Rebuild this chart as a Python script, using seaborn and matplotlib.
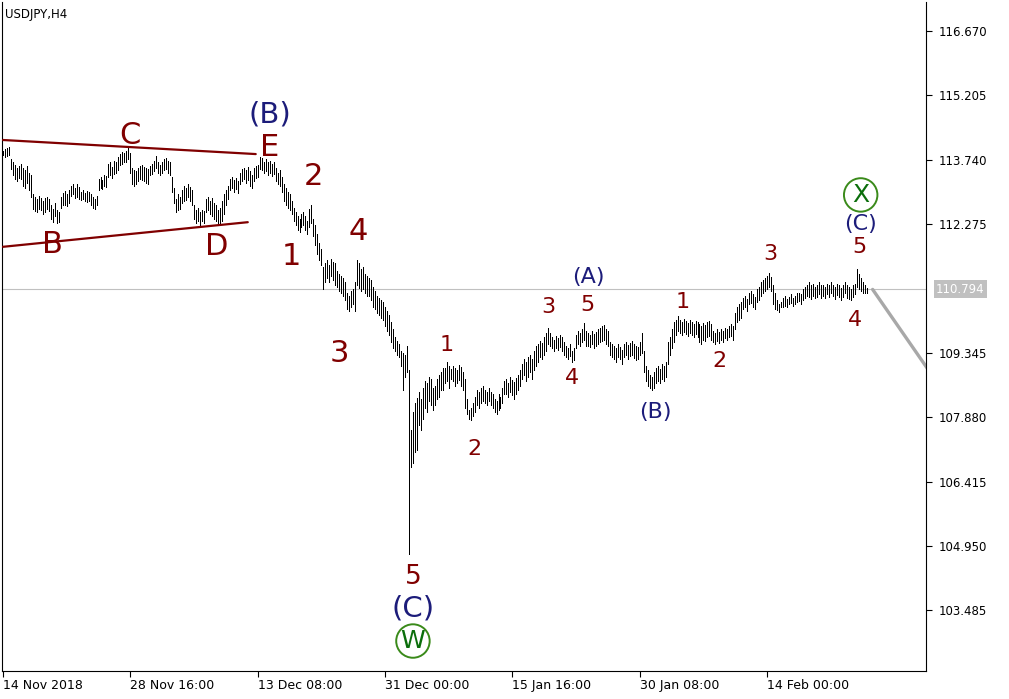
import matplotlib
matplotlib.use('Agg')
import matplotlib.pyplot as plt
import matplotlib.transforms as mtransforms
import seaborn as sns
import pandas as pd
import numpy as np

# ---------------------------------------------------------------------------
# data (USDJPY, H4 bars, 14 Nov 2018 .. 19 Feb 2019)
# ---------------------------------------------------------------------------
highs = [
    113.93, 113.98, 114.00, 114.03,
    113.75, 113.70, 113.62, 113.55, 113.60,
    113.65, 113.55, 113.50, 113.60, 113.45, 113.40,
    112.95, 112.90, 112.85, 112.92, 112.88, 112.80, 112.86, 112.90, 112.85,
    112.70, 112.62, 112.75, 112.60, 112.55,
    112.90, 112.98, 113.02, 112.95, 113.05,
    113.15, 113.20, 113.10, 113.18, 113.12,
    113.00, 113.05, 112.98, 113.02, 113.00, 112.95, 112.90, 112.85, 112.92,
    113.30, 113.35, 113.28, 113.40, 113.38,
    113.65, 113.70, 113.58, 113.72, 113.68, 113.80,
    113.88, 113.92, 113.90, 113.95, 114.02, 113.90,
    113.55, 113.50, 113.48, 113.55, 113.60, 113.62, 113.58, 113.55, 113.52,
    113.60, 113.65, 113.72, 113.82, 113.70, 113.62, 113.68, 113.75, 113.78, 113.72, 113.70,
    113.35, 113.10, 112.85, 112.95, 112.90,
    113.05, 113.15, 113.10, 113.20, 113.12, 113.05,
    112.70, 112.60, 112.65, 112.55, 112.60, 112.58,
    112.85, 112.90, 112.80, 112.88, 112.75, 112.70, 112.60, 112.65,
    112.80, 112.95, 113.05, 113.15,
    113.30, 113.35, 113.28, 113.32, 113.25,
    113.45, 113.52, 113.55, 113.50, 113.58, 113.48, 113.40, 113.55, 113.60, 113.62,
    113.80, 113.78, 113.70, 113.75, 113.68, 113.72, 113.65, 113.70,
    113.55, 113.45, 113.50, 113.35, 113.20, 113.10, 113.00,
    112.95, 112.80,
    112.65, 112.55, 112.45, 112.40, 112.50, 112.55, 112.45, 112.35, 112.62, 112.70,
    112.40, 112.25, 112.05, 111.85, 111.70,
    111.30, 111.40, 111.45, 111.35, 111.48, 111.42, 111.38,
    111.20, 111.15, 111.10, 111.05, 110.95,
    110.70, 110.65, 110.75, 110.80, 110.95,
    111.46, 111.38, 111.25, 111.30, 111.15, 111.10,
    111.05, 111.00, 110.85, 110.75, 110.65, 110.60,
    110.55, 110.50, 110.40, 110.30, 110.20, 110.05, 109.90,
    109.70, 109.62, 109.55, 109.40, 109.35, 109.30, 109.50, 108.95,
    107.59, 107.99, 108.21, 108.33,
    108.45, 108.30, 108.55,
    108.70, 108.65, 108.80, 108.75,
    108.55, 108.60, 108.75, 108.85, 108.90, 109.00,
    109.00, 109.15, 109.05, 108.98,
    109.05, 109.00, 108.95, 109.08, 109.02, 108.90,
    108.75, 108.30, 108.05, 108.10, 108.20,
    108.35, 108.50, 108.45, 108.55, 108.60, 108.50, 108.45,
    108.55, 108.45, 108.40, 108.30, 108.25, 108.40, 108.35, 108.55,
    108.70, 108.75, 108.65, 108.80, 108.72, 108.68, 108.78, 108.85,
    108.95, 109.10, 109.20, 109.15, 109.25, 109.30, 109.20, 109.40, 109.50,
    109.55, 109.62, 109.58, 109.70, 109.80, 109.92,
    109.80, 109.70, 109.65, 109.72, 109.68, 109.75, 109.70,
    109.60, 109.50, 109.45, 109.55, 109.40, 109.45,
    109.75, 109.85, 109.80, 109.90, 110.03, 109.85,
    109.80, 109.75, 109.85, 109.78, 109.82, 109.88, 109.92, 109.95, 109.98, 109.90, 109.85,
    109.60, 109.55, 109.50, 109.45, 109.55, 109.48, 109.42,
    109.55, 109.60, 109.52, 109.58, 109.62, 109.55, 109.50, 109.48, 109.60, 109.80,
    109.40, 109.05, 108.95, 108.85, 108.80,
    108.90, 109.00, 109.05, 108.98, 109.10, 109.05, 109.15,
    109.60, 109.70, 109.90, 110.05, 110.10,
    110.18, 110.10, 110.05, 110.12, 110.08, 110.02, 110.10, 110.05, 110.00, 110.08,
    110.05, 110.00, 109.95, 110.02, 109.98, 110.05, 110.08, 110.00,
    109.85, 109.80, 109.88, 109.82, 109.90, 109.85, 109.92, 109.88, 109.95, 110.00,
    109.95, 110.25, 110.40, 110.45, 110.50,
    110.60, 110.65, 110.58, 110.70, 110.75, 110.68, 110.62, 110.80,
    110.85, 110.95, 111.00, 111.05, 111.10, 111.16, 111.08,
    110.90, 110.70, 110.55, 110.45, 110.50,
    110.60, 110.65, 110.58, 110.62, 110.68, 110.60, 110.65, 110.70, 110.72, 110.68,
    110.80, 110.85, 110.90, 110.95, 110.88, 110.92, 110.85, 110.90, 110.95, 110.88,
    110.90, 110.85, 110.92, 110.88, 110.95, 110.90, 110.85, 110.92, 110.88, 110.82,
    110.90, 110.95, 110.88, 110.85, 110.80, 110.88, 110.92,
    111.26, 111.15, 111.05, 110.95, 110.90, 110.82,
]
lows = [
    113.84, 113.80, 113.83, 113.85,
    113.52, 113.40, 113.30, 113.25, 113.32,
    113.30, 113.15, 113.10, 113.22, 113.05, 112.90,
    112.62, 112.58, 112.55, 112.62, 112.60, 112.50, 112.55, 112.62, 112.58,
    112.40, 112.32, 112.45, 112.30, 112.33,
    112.65, 112.70, 112.72, 112.68, 112.75,
    112.92, 112.95, 112.88, 112.90, 112.85,
    112.82, 112.85, 112.80, 112.78, 112.80, 112.70, 112.65, 112.62, 112.70,
    113.05, 113.10, 113.08, 113.15, 113.12,
    113.35, 113.40, 113.32, 113.42, 113.45, 113.50,
    113.62, 113.65, 113.70, 113.68, 113.75, 113.45,
    113.20, 113.15, 113.18, 113.25, 113.30, 113.28, 113.25, 113.22, 113.20,
    113.40, 113.42, 113.48, 113.55, 113.45, 113.40, 113.45, 113.50, 113.52, 113.45, 113.40,
    113.00, 112.75, 112.55, 112.60, 112.62,
    112.75, 112.80, 112.82, 112.90, 112.80, 112.70,
    112.40, 112.30, 112.35, 112.25, 112.35, 112.30,
    112.55, 112.60, 112.50, 112.45, 112.40, 112.35, 112.25, 112.30,
    112.35, 112.50, 112.70, 112.85,
    113.05, 113.10, 113.00, 113.08, 112.98,
    113.20, 113.25, 113.30, 113.22, 113.28, 113.15, 113.10, 113.25, 113.32, 113.35,
    113.52, 113.50, 113.45, 113.48, 113.40, 113.45, 113.38, 113.42,
    113.25, 113.20, 113.15, 113.00, 112.80, 112.70, 112.65,
    112.60, 112.50,
    112.35, 112.25, 112.15, 112.10, 112.20, 112.25, 112.15, 112.05, 112.20, 112.30,
    112.00, 111.80, 111.60, 111.45, 111.35,
    110.80, 110.95, 111.05, 110.95, 111.10, 111.00, 110.90,
    110.85, 110.75, 110.70, 110.65, 110.55,
    110.35, 110.30, 110.40, 110.45, 110.30,
    110.90, 110.82, 110.75, 110.80, 110.70, 110.65,
    110.65, 110.55, 110.40, 110.35, 110.25, 110.20,
    110.15, 110.10, 109.95, 109.85, 109.75, 109.60, 109.45,
    109.40, 109.30, 109.25, 109.05, 108.50, 108.80, 108.90, 104.77,
    106.75, 106.85, 107.10, 107.14,
    107.70, 107.60, 107.85,
    108.10, 108.00, 108.25, 108.15,
    108.05, 108.15, 108.30, 108.35, 108.50, 108.50,
    108.65, 108.70, 108.55, 108.75,
    108.70, 108.60, 108.65, 108.72, 108.60, 108.50,
    108.10, 107.95, 107.85, 107.82, 107.90,
    108.00, 108.15, 108.10, 108.20, 108.25, 108.20, 108.15,
    108.25, 108.15, 108.10, 108.00, 107.95, 108.05, 108.10, 108.20,
    108.40, 108.42, 108.35, 108.45, 108.38, 108.30, 108.40, 108.50,
    108.60, 108.75, 108.85, 108.70, 108.80, 108.90, 108.75, 108.95, 109.05,
    109.15, 109.25, 109.20, 109.30, 109.40, 109.55,
    109.50, 109.45, 109.40, 109.45, 109.42, 109.48, 109.40,
    109.30, 109.25, 109.20, 109.28, 109.15, 109.18,
    109.45, 109.55, 109.50, 109.60, 109.65, 109.50,
    109.50, 109.48, 109.55, 109.45, 109.50, 109.55, 109.60, 109.62, 109.65, 109.55, 109.50,
    109.30, 109.25, 109.20, 109.15, 109.25, 109.20, 109.10,
    109.25, 109.30, 109.20, 109.28, 109.30, 109.22, 109.18, 109.20, 109.30, 109.35,
    108.90, 108.70, 108.60, 108.55, 108.50,
    108.55, 108.65, 108.70, 108.65, 108.75, 108.70, 108.80,
    109.10, 109.30, 109.45, 109.60, 109.75,
    109.85, 109.80, 109.75, 109.82, 109.78, 109.72, 109.80, 109.75, 109.70, 109.78,
    109.70, 109.60, 109.55, 109.65, 109.62, 109.70, 109.72, 109.65,
    109.60, 109.55, 109.62, 109.58, 109.65, 109.60, 109.68, 109.65, 109.70, 109.72,
    109.65, 109.90, 110.05, 110.10, 110.15,
    110.35, 110.40, 110.30, 110.45, 110.48, 110.40, 110.35, 110.50,
    110.55, 110.65, 110.70, 110.75, 110.80, 110.85, 110.75,
    110.45, 110.35, 110.32, 110.28, 110.38,
    110.40, 110.42, 110.38, 110.45, 110.48, 110.42, 110.45, 110.50, 110.52, 110.45,
    110.55, 110.60, 110.65, 110.62, 110.58, 110.65, 110.60, 110.62, 110.68, 110.60,
    110.65, 110.60, 110.68, 110.62, 110.70, 110.65, 110.58, 110.66, 110.62, 110.55,
    110.62, 110.70, 110.60, 110.58, 110.55, 110.62, 110.68,
    110.85, 110.80, 110.75, 110.70, 110.72, 110.72,
]

current_price = 110.794

# triangle boundary lines (bar index, price)
upper_line_bars = [0, 127]
upper_line_prices = [114.19, 113.87]
lower_line_bars = [0, 123]
lower_line_prices = [111.76, 112.32]

# forecast line
forecast_bars = [437, 465]
forecast_prices = [110.79, 108.96]

y_ticks = [116.670, 115.205, 113.740, 112.275, 109.345, 107.880, 106.415, 104.950, 103.485]
x_tick_bars = [0, 64, 128, 192, 256, 320, 384]
x_tick_labels = ['14 Nov 2018', '28 Nov 16:00', '13 Dec 08:00', '31 Dec 00:00',
                 '15 Jan 16:00', '30 Jan 08:00', '14 Feb 00:00']

# wave labels: text, bar, price
RED = '#800000'
NAVY = '#1c1c7a'
GREEN = '#0b6e0b'
big_labels = [
    ('C', 64, 114.30), ('E', 134, 114.01), ('B', 25, 111.82), ('D', 107.5, 111.76),
    ('2', 156, 113.35), ('1', 145, 111.55), ('4', 178.5, 112.10), ('3', 169, 109.34),
]
small_labels = [
    ('1', 223, 109.53), ('2', 237, 107.16), ('3', 274, 110.39), ('4', 286, 108.78),
    ('5', 293.5, 110.44), ('1', 341.5, 110.50), ('2', 360, 109.16), ('3', 385.5, 111.60),
    ('4', 428, 110.09), ('5', 430.5, 111.76),
]
navy_big = [('(B)', 134, 114.78), ('(C)', 206, 103.54)]
navy_small = [('(A)', 294, 111.07), ('(B)', 328, 108.00), ('(C)', 431, 112.28)]
circled = [('W', 206, 102.79), ('X', 431, 112.94)]


def main():
    sns.set_style('white')
    plt.rcParams['font.family'] = ['DejaVu Sans']

    bars = pd.DataFrame({'bar': np.arange(len(highs)), 'high': highs, 'low': lows})

    fig = plt.figure(figsize=(10.09, 6.99), dpi=100)
    ax = fig.add_axes([2 / 1009, 28 / 699, 924 / 1009, 669 / 699])

    px_per_bar = 1.99
    ax.set_xlim(-0.5, (926 - 3) / px_per_bar)
    ax.set_ylim(102.108, 117.330)

    # current price line
    ax.axhline(current_price, color='#c0c0c0', lw=0.8, zorder=1)

    # bars, 1 px wide
    ax.vlines(bars['bar'], bars['low'], bars['high'], color='black', lw=0.5,
              antialiased=False, zorder=3)

    # triangle lines
    tri = pd.DataFrame({'bar': upper_line_bars + lower_line_bars,
                        'price': upper_line_prices + lower_line_prices,
                        'line': ['upper'] * 2 + ['lower'] * 2})
    sns.lineplot(data=tri, x='bar', y='price', units='line', estimator=None,
                 color=RED, lw=1.6, ax=ax, zorder=4)

    fc = pd.DataFrame({'bar': forecast_bars, 'price': forecast_prices})
    sns.lineplot(data=fc, x='bar', y='price', color='#a8a8a8', lw=2.4, ax=ax,
                 zorder=2, clip_on=True)

    # wave labels
    for t, b, p in big_labels:
        ax.text(b, p, t, color=RED, fontsize=22, ha='center', va='center', zorder=6)
    ax.text(206, 104.25, '5', color=RED, fontsize=19, ha='center', va='center', zorder=6)
    for t, b, p in small_labels:
        ax.text(b, p, t, color=RED, fontsize=16, ha='center', va='center', zorder=6)
    for t, b, p in navy_big:
        ax.text(b, p, t, color=NAVY, fontsize=21, ha='center', va='center', zorder=6)
    for t, b, p in navy_small:
        ax.text(b, p, t, color=NAVY, fontsize=16, ha='center', va='center', zorder=6)
    circ = pd.DataFrame({'bar': [c[1] for c in circled], 'price': [c[2] for c in circled]})
    sns.scatterplot(data=circ, x='bar', y='price', s=580, facecolor='none',
                    edgecolor='#3a8a1a', linewidth=1.4, ax=ax, zorder=6)
    for t, b, p in circled:
        ax.text(b, p, t, color=GREEN, fontsize=18, ha='center', va='center', zorder=7)

    # axes styling
    for side in ['left', 'right', 'bottom']:
        ax.spines[side].set_color('black')
        ax.spines[side].set_linewidth(0.8)
    ax.spines['top'].set_visible(False)

    ax.yaxis.tick_right()
    ax.set_yticks(y_ticks)
    ax.set_yticklabels([f'{v:.3f}' for v in y_ticks])
    ax.tick_params(axis='y', which='both', right=True, left=False, length=4,
                   width=0.8, color='black', pad=5, labelsize=8.5, labelcolor='black')

    ax.set_xticks(x_tick_bars)
    ax.set_xticklabels(x_tick_labels, ha='left')
    ax.tick_params(axis='x', bottom=True, length=4, width=0.8, color='black',
                   pad=2, labelsize=9, labelcolor='black')
    ax.set_xlabel('')
    ax.set_ylabel('')
    ax.grid(False)

    # current price tag
    trans = mtransforms.blended_transform_factory(ax.transAxes, ax.transData)
    ax.text(1.0 + 10 / 924, current_price, f'{current_price:.3f}', transform=trans,
            ha='left', va='center', color='white', fontsize=8.5, zorder=8,
            bbox=dict(boxstyle='square,pad=0.2', fc='#c0c0c0', ec='none'), clip_on=False)

    ax.text(3 / 924, 1 - 6 / 669, 'USDJPY,H4', transform=ax.transAxes, ha='left',
            va='top', fontsize=8.5, color='black')

    fig.savefig('out.png', dpi=100)
    plt.close(fig)


if __name__ == '__main__':
    main()
